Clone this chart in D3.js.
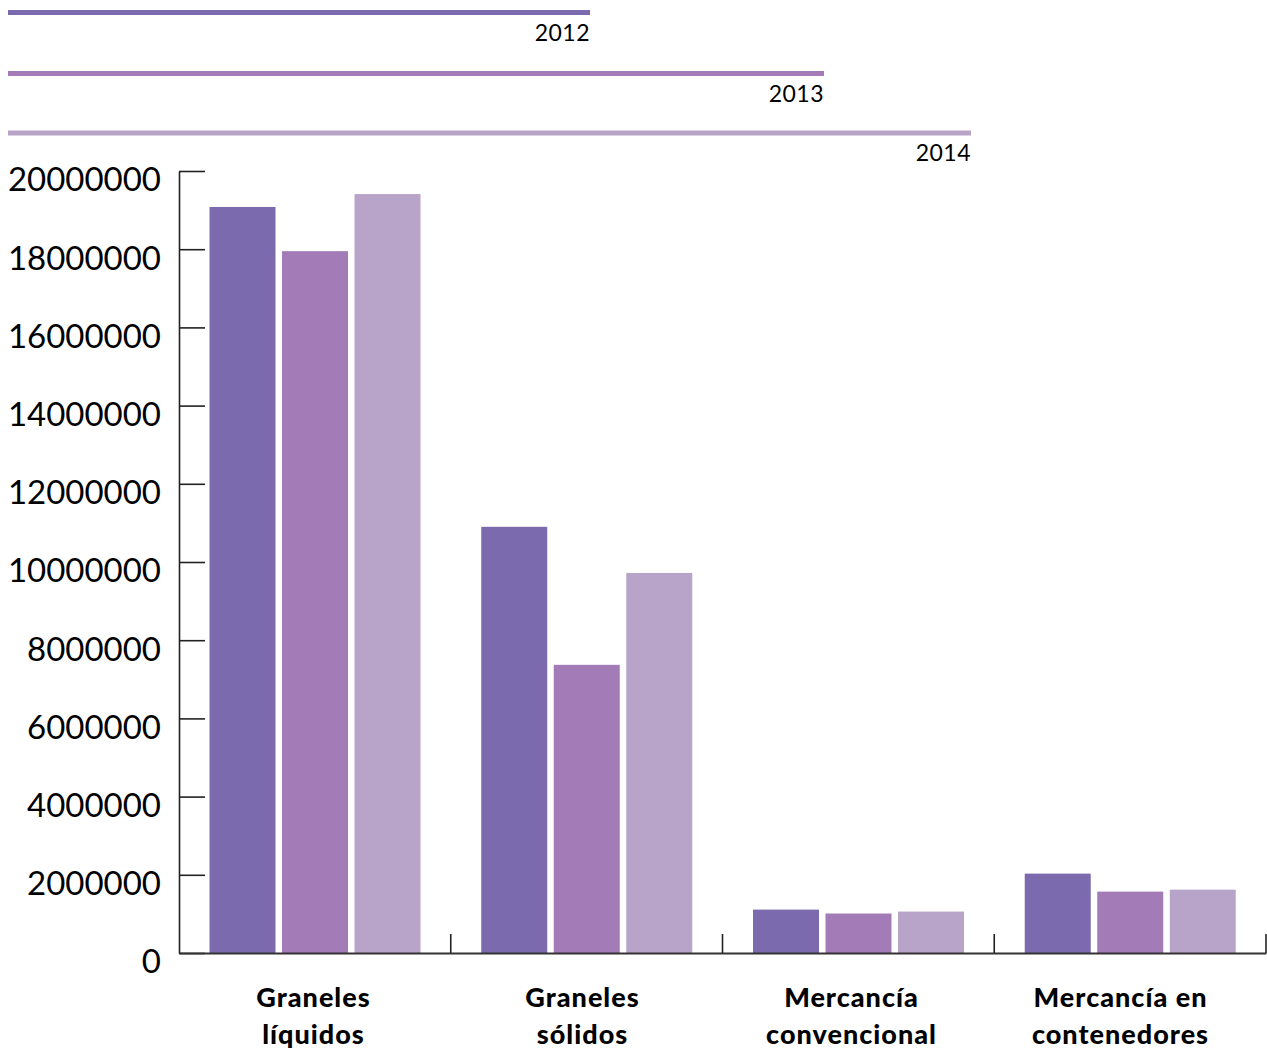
<!DOCTYPE html>
<html lang="es">
<head>
<meta charset="utf-8">
<script src="https://cdn.jsdelivr.net/npm/d3@7"></script>
<style>
  html, body { margin: 0; padding: 0; background: #fff; }
  svg { display: block; }
  text { font-family: Lato, "Noto Sans", sans-serif; fill: #000; }
</style>
</head>
<body>
<svg id="chart" width="1267" height="1052"></svg>
<script>
// Tráfico portuario por tipo de mercancía (toneladas)
const categories = ["Graneles líquidos", "Graneles sólidos", "Mercancía convencional", "Mercancía en contenedores"];
const categoryLines = [["Graneles", "líquidos"], ["Graneles", "sólidos"], ["Mercancía", "convencional"], ["Mercancía en", "contenedores"]];
const years = ["2012", "2013", "2014"];
const values2012 = [19080000, 10900000, 1110000, 2030000];
const values2013 = [17950000, 7370000, 1010000, 1570000];
const values2014 = [19410000, 9720000, 1060000, 1620000];
const yTicks = [0, 2000000, 4000000, 6000000, 8000000, 10000000, 12000000, 14000000, 16000000, 18000000, 20000000];
const colors = ["#7b6aae", "#a27bb7", "#b8a4c8"];

const series = [values2012, values2013, values2014];

const svg = d3.select("#chart");
const plot = { left: 179, right: 1266, top: 171, bottom: 953 };

const x0 = d3.scaleBand().domain(categories).range([plot.left, plot.right]).padding(0);
const x1 = d3.scaleBand().domain(years).range([30.5, 241.5]).paddingInner(0.09).paddingOuter(0);
// category captions sit on a slightly tighter spacing than the bands
const xLabel = d3.scaleBand().domain(categories).range([plot.left, 1255]).padding(0);
const y = d3.scaleLinear().domain([0, 20000000]).range([plot.bottom, plot.top]);
const color = d3.scaleOrdinal().domain(years).range(colors);

// Legend: one long rule per year, label right-aligned under its end
const legendEnds = d3.scaleOrdinal().domain(years).range([590, 824, 971]);
const legendRow = d3.scaleOrdinal().domain(years).range([12.5, 73.5, 133]);
const legend = svg.append("g").attr("class", "legend");
years.forEach(yr => {
  legend.append("line")
    .attr("x1", 8).attr("x2", legendEnds(yr))
    .attr("y1", legendRow(yr)).attr("y2", legendRow(yr))
    .attr("stroke", color(yr)).attr("stroke-width", 5);
  legend.append("text")
    .attr("x", legendEnds(yr)).attr("y", legendRow(yr) + 28)
    .attr("text-anchor", "end")
    .style("font-size", "23px")
    .style("letter-spacing", "0.5px")
    .text(yr);
});

// Bars
const groups = svg.append("g").selectAll("g")
  .data(categories)
  .join("g")
  .attr("transform", d => `translate(${x0(d)},0)`);

groups.selectAll("rect")
  .data((d, i) => years.map((yr, j) => ({ yr, v: series[j][i] })))
  .join("rect")
  .attr("x", d => x1(d.yr))
  .attr("width", x1.bandwidth())
  .attr("y", d => y(d.v))
  .attr("height", d => y(0) - y(d.v))
  .attr("fill", d => color(d.yr));

// Y axis with inward ticks
const yAxis = svg.append("g")
  .attr("transform", `translate(${plot.left},0)`)
  .call(d3.axisLeft(y).tickValues(yTicks).tickFormat(d3.format("d"))
    .tickSizeInner(-26).tickSizeOuter(0).tickPadding(18));
yAxis.select(".domain").attr("stroke", "#222").attr("stroke-width", 1.6);
yAxis.selectAll(".tick line").attr("stroke", "#222").attr("stroke-width", 1.6);
yAxis.selectAll(".tick text")
  .attr("dy", "0.6em")
  .style("font-size", "33px")
  .style("font-family", "Lato, 'Noto Sans', sans-serif");

// X axis baseline
const xAxis = svg.append("g")
  .attr("transform", `translate(0,${plot.bottom})`)
  .call(d3.axisBottom(x0).tickSize(0).tickFormat(""));
xAxis.select(".domain").attr("stroke", "#333").attr("stroke-width", 2);

// Category separators rising from the baseline
svg.append("g").selectAll("line")
  .data(categories)
  .join("line")
  .attr("x1", d => x0(d) + x0.bandwidth())
  .attr("x2", d => x0(d) + x0.bandwidth())
  .attr("y1", plot.bottom).attr("y2", plot.bottom - 19)
  .attr("stroke", "#222").attr("stroke-width", 1.6);

// Category labels, two lines each
const labels = svg.append("g").selectAll("text")
  .data(categories)
  .join("text")
  .attr("text-anchor", "middle")
  .style("font-size", "27px")
  .style("font-weight", "900")
  .style("letter-spacing", "1px");
labels.each(function (d, i) {
  const t = d3.select(this);
  categoryLines[i].forEach((ln, k) => {
    t.append("tspan")
      .attr("x", xLabel(d) + xLabel.bandwidth() / 2)
      .attr("y", 1007 + k * 37)
      .text(ln);
  });
});
</script>
</body>
</html>
